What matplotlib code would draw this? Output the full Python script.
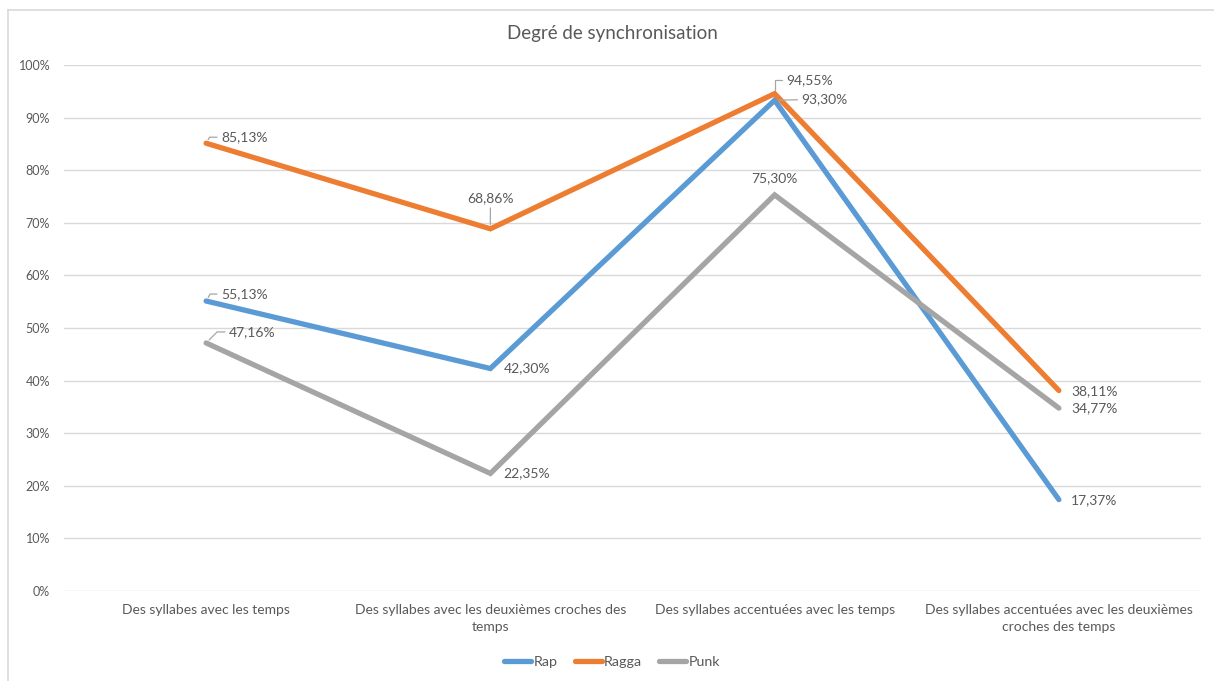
import matplotlib
matplotlib.use("Agg")
import matplotlib.pyplot as plt
from matplotlib.lines import Line2D

categories = [
    "Des syllabes avec les temps",
    "Des syllabes avec les deuxièmes croches des\ntemps",
    "Des syllabes accentuées avec les temps",
    "Des syllabes accentuées avec les deuxièmes\ncroches des temps",
]
rap = [55.13, 42.30, 93.30, 17.37]
ragga = [85.13, 68.86, 94.55, 38.11]
punk = [47.16, 22.35, 75.30, 34.77]
series_names = ["Rap", "Ragga", "Punk"]
yticks = [0, 10, 20, 30, 40, 50, 60, 70, 80, 90, 100]

colors = {"Rap": "#5B9BD5", "Ragga": "#ED7D31", "Punk": "#A5A5A5"}
txt = "#595959"
plt.rcParams["font.family"] = ["Lato", "DejaVu Sans"]

fig = plt.figure(figsize=(12.14, 6.81), dpi=100)
ax = fig.add_axes([64/1214, 1-591/681, (1201-64)/1214, (591-65)/681])

x = [0.5, 1.5, 2.5, 3.5]
data = {"Rap": rap, "Ragga": ragga, "Punk": punk}
for name in series_names:
    ax.plot(x, data[name], color=colors[name], lw=3.8, solid_capstyle="round",
            solid_joinstyle="miter", zorder=3)

ax.set_xlim(0, 4)
ax.set_ylim(0, 100)
ax.set_yticks(yticks)
ax.set_yticklabels([f"{v}%" for v in yticks], color=txt, fontsize=9)
ax.set_xticks(x)
ax.set_xticklabels(categories, color=txt, fontsize=10, linespacing=1.55)
ax.tick_params(axis="both", length=0)
ax.tick_params(axis="y", pad=10)
ax.tick_params(axis="x", pad=9)
ax.grid(axis="y", color="#D9D9D9", lw=1)
ax.set_axisbelow(True)
for s in ax.spines.values():
    s.set_visible(False)

def fmt(v):
    return f"{v:.2f}".replace(".", ",") + "%"

lead = dict(arrowstyle="-", color="#A6A6A6", lw=0.9, shrinkA=1, shrinkB=3)
# (series, index, dx px, dy px, ha, arrow connection or None)
labels = [
    ("Ragga", 0, 15, 6, "left", "angle,angleA=0,angleB=60,rad=0"),
    ("Rap", 0, 15, 7, "left", "angle,angleA=0,angleB=60,rad=0"),
    ("Punk", 0, 23, 11, "left", "angle,angleA=0,angleB=45,rad=0"),
    ("Ragga", 1, 0, 31, "center", "arc3"),
    ("Rap", 1, 13, 0, "left", None),
    ("Punk", 1, 13, 0, "left", None),
    ("Ragga", 2, 12, 14, "left", "angle,angleA=0,angleB=90,rad=0"),
    ("Rap", 2, 27, 1, "left", "arc3"),
    ("Punk", 2, 0, 17, "center", None),
    ("Ragga", 3, 12, -1, "left", None),
    ("Punk", 3, 12, 0, "left", None),
    ("Rap", 3, 12, -1, "left", None),
]
for name, i, dx, dy, ha, conn in labels:
    v = data[name][i]
    kw = {}
    if conn is not None:
        kw["arrowprops"] = dict(lead, connectionstyle=conn)
    ax.annotate(fmt(v), xy=(x[i], v), xytext=(dx, dy), textcoords="offset pixels",
                ha=ha, va="center", fontsize=10, color=txt, zorder=5, **kw)

fig.text(612/1214, 1-34/681, "Degré de synchronisation", ha="center", va="center",
         fontsize=13.5, color=txt)

handles = [Line2D([], [], color=colors[n], lw=3.8, solid_capstyle="round") for n in series_names]
fig.legend(handles, series_names, loc="center", bbox_to_anchor=(612/1214, 1-662/681),
           ncol=3, frameon=False, fontsize=10.3, handlelength=1.9, handletextpad=0.15,
           columnspacing=1.2, labelcolor=txt)

# chart border (top and left visible)
fig.add_artist(Line2D([8/1214, 8/1214], [0, 1-10/681], transform=fig.transFigure,
                      color="#D9D9D9", lw=1.2))
fig.add_artist(Line2D([8/1214, 1], [1-10/681, 1-10/681], transform=fig.transFigure,
                      color="#D9D9D9", lw=1.2))

fig.savefig("out.png", dpi=100, facecolor="white")
